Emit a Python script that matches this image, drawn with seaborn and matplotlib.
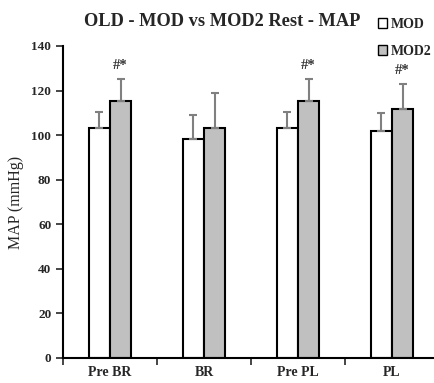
import numpy as np
import pandas as pd
import matplotlib
matplotlib.use("Agg")
import matplotlib.pyplot as plt
import seaborn as sns
from matplotlib.patches import Patch

# values
categories = ["Pre BR", "BR", "Pre PL", "PL"]
groups = ["MOD", "MOD2"]
mod_mean = [103.3, 98.2, 103.3, 101.7]
mod_sd = [7.2, 11.0, 7.2, 8.2]
mod2_mean = [115.2, 103.3, 115.2, 111.6]
mod2_sd = [9.8, 15.5, 9.8, 11.2]
sig_marks = ["#*", "", "#*", "#*"]

sns.set_theme(style="white")
plt.rcParams["font.family"] = ["Liberation Serif", "DejaVu Serif"]

df = pd.DataFrame({
    "cond": categories * 2,
    "group": [groups[0]] * 4 + [groups[1]] * 4,
    "map": mod_mean + mod2_mean,
})

fig = plt.figure(figsize=(4.35, 3.83), dpi=100)
ax = fig.add_axes([0.145, 0.0653, 0.864, 0.8146])

palette = {"MOD": "white", "MOD2": "#c0c0c0"}
sns.barplot(data=df, x="cond", y="map", hue="group", order=categories,
            hue_order=groups, palette=palette, errorbar=None, width=0.45,
            edgecolor="black", linewidth=1.5, ax=ax, legend=False)

# one-sided error bars on top of each bar
sds = mod_sd + mod2_sd
for patch, sd in zip(ax.patches[:8], sds):
    xc = patch.get_x() + patch.get_width() / 2
    top = patch.get_height()
    ax.errorbar(xc, top, yerr=[[0], [sd]], fmt="none", ecolor="#808080",
                elinewidth=1.5, capsize=3, capthick=1.5, zorder=1)

# significance marks over MOD2 bars
for i, mark in enumerate(sig_marks):
    if mark:
        patch = ax.patches[4 + i]
        xc = patch.get_x() + patch.get_width() / 2
        ax.text(xc, mod2_mean[i] + mod2_sd[i] + 3.5, mark, ha="center",
                va="bottom", fontsize=10.5, fontweight="bold", color="#333333")

ax.set_xlim(-0.5, 3.5)
ax.set_ylim(0, 140)
ax.set_yticks(np.arange(0, 141, 20))
ax.set_xticks([0, 1, 2, 3])
ax.set_xticklabels(categories, fontweight="bold", fontsize=10)
ax.set_xticks([-0.5, 0.5, 1.5, 2.5, 3.5], minor=True)
ax.tick_params(axis="x", which="major", length=0, pad=6)
ax.tick_params(axis="x", which="minor", length=5, width=1.2, direction="out",
               bottom=True)
ax.tick_params(axis="y", length=5, width=1.2, direction="out", left=True,
               labelsize=9.5)
for lbl in ax.get_yticklabels():
    lbl.set_fontweight("bold")
ax.set_xlabel("")
ax.set_ylabel("MAP (mmHg)", fontsize=11.5, labelpad=5)

for side in ["top", "right"]:
    ax.spines[side].set_visible(False)
for side in ["left", "bottom"]:
    ax.spines[side].set_color("black")
    ax.spines[side].set_linewidth(1.5)

fig.text(0.51, 0.945, "OLD - MOD vs MOD2 Rest - MAP", ha="center",
         va="center", fontsize=13.2, fontweight="bold")

handles = [Patch(facecolor=palette[g], edgecolor="black", linewidth=1.0, label=g)
           for g in groups]
fig.legend(handles=handles, loc="upper left", bbox_to_anchor=(0.868, 0.954),
           frameon=False, handlelength=0.7, handleheight=0.7,
           handletextpad=0.25, labelspacing=1.0, borderaxespad=0,
           borderpad=0, prop={"weight": "bold", "size": 10})

fig.savefig("out.png", dpi=100)
